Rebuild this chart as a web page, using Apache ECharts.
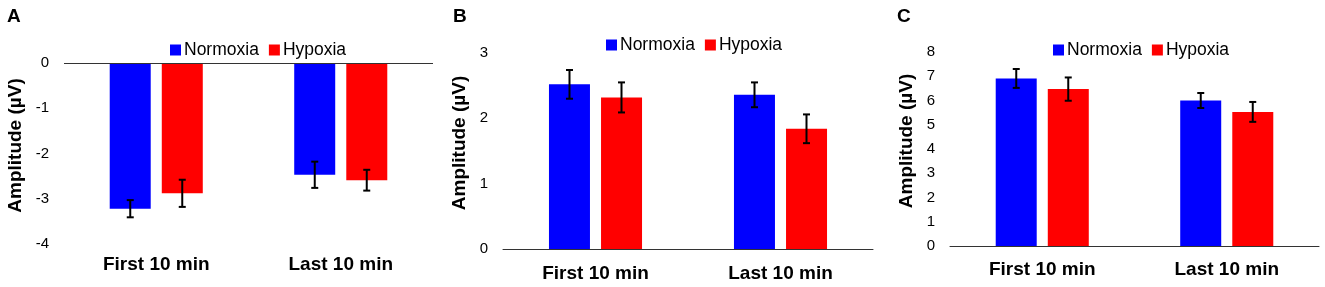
<!DOCTYPE html>
<html lang="en">
<head>
  <meta charset="utf-8">
  <script src="https://cdn.jsdelivr.net/npm/echarts@6/dist/echarts.min.js"></script>
</head>
<body style="margin: 0">
<div id="container" style="width: 1325px; height: 287px"></div>
<script type="text/javascript">
  var categories = ['First 10 min', 'Last 10 min'];
  var seriesNames = ['Normoxia', 'Hypoxia'];
  var panelLetters = ['A', 'B', 'C'];

  // panel A
  var normoxiaA = [-3.22, -2.47];
  var normoxiaErrA = [0.19, 0.29];
  var hypoxiaA = [-2.88, -2.59];
  var hypoxiaErrA = [0.30, 0.23];
  // panel B
  var normoxiaB = [2.52, 2.36];
  var normoxiaErrB = [0.22, 0.19];
  var hypoxiaB = [2.32, 1.84];
  var hypoxiaErrB = [0.23, 0.22];
  // panel C
  var normoxiaC = [6.91, 6.00];
  var normoxiaErrC = [0.39, 0.31];
  var hypoxiaC = [6.47, 5.53];
  var hypoxiaErrC = [0.48, 0.41];

  // y ranges (min, max), tick step 1
  var yRangeA = [-4, 0];
  var yRangeB = [0, 3];
  var yRangeC = [0, 8];

  var FONT = "'Liberation Sans', Arial, sans-serif";
  var BLUE = '#0000ff', RED = '#ff0000';

  var panels = [
    { n: normoxiaA, ne: normoxiaErrA, h: hypoxiaA, he: hypoxiaErrA, range: yRangeA,
      grid: { left: 64, right: 892, top: 63, bottom: 43 }, legend: { left: 170, top: 41 },
      nameGap: 39, labelMargin: 11, letterX: 7 },
    { n: normoxiaB, ne: normoxiaErrB, h: hypoxiaB, he: hypoxiaErrB, range: yRangeB,
      grid: { left: 503, right: 452, top: 53, bottom: 38 }, legend: { left: 606, top: 36 },
      nameGap: 34, labelMargin: 15, letterX: 453 },
    { n: normoxiaC, ne: normoxiaErrC, h: hypoxiaC, he: hypoxiaErrC, range: yRangeC,
      grid: { left: 950, right: 6, top: 52, bottom: 41 }, legend: { left: 1053, top: 41 },
      nameGap: 34, labelMargin: 14, letterX: 897 }
  ];

  function errorItem(offset) {
    return function (params, api) {
      var i = api.value(0);
      var top = api.coord([i, api.value(1) + api.value(2)]);
      var bot = api.coord([i, api.value(1) - api.value(2)]);
      var x = top[0] + offset;
      var style = { stroke: '#000', lineWidth: 2 };
      return {
        type: 'group',
        children: [
          { type: 'line', shape: { x1: x, y1: top[1], x2: x, y2: bot[1] }, style: style },
          { type: 'line', shape: { x1: x - 3.5, y1: top[1], x2: x + 3.5, y2: top[1] }, style: style },
          { type: 'line', shape: { x1: x - 3.5, y1: bot[1], x2: x + 3.5, y2: bot[1] }, style: style }
        ]
      };
    };
  }

  function errData(vals, errs) {
    return vals.map(function (v, i) { return [i, v, errs[i]]; });
  }

  var option = {
    animation: false,
    textStyle: { fontFamily: FONT },
    title: [], grid: [], xAxis: [], yAxis: [], legend: [], series: []
  };

  panels.forEach(function (p, k) {
    option.title.push({
      text: panelLetters[k], left: p.letterX, top: 7, padding: 0,
      textStyle: { fontFamily: FONT, fontSize: 19, fontWeight: 'bold', color: '#000' }
    });
    option.grid.push(p.grid);
    option.legend.push({
      left: p.legend.left, top: p.legend.top, padding: 0,
      itemWidth: 11, itemHeight: 11, itemGap: 10,
      icon: 'rect',
      data: seriesNames.map(function (name) { return { name: name + '_' + k }; }),
      formatter: function (name) { return name.split('_')[0]; },
      textStyle: { fontFamily: FONT, fontSize: 17.5, color: '#000', padding: [0, 0, 0, -2] }
    });
    option.xAxis.push({
      type: 'category', gridIndex: k, data: categories,
      axisLine: { show: k > 0, onZero: false, lineStyle: { color: '#333', width: 1 } },
      axisTick: { show: false },
      axisLabel: { margin: p.labelMargin, fontFamily: FONT, fontSize: 19, fontWeight: 'bold', color: '#000' }
    });
    option.yAxis.push({
      type: 'value', gridIndex: k, min: p.range[0], max: p.range[1], interval: 1,
      name: 'Amplitude (µV)', nameLocation: 'middle', nameRotate: 90, nameGap: p.nameGap,
      nameTextStyle: { fontFamily: FONT, fontSize: 19, fontWeight: 'bold', color: '#000', padding: [0, 0, 0, 16] },
      axisLine: { show: false }, axisTick: { show: false }, splitLine: { show: false },
      axisLabel: { margin: 15, fontFamily: FONT, fontSize: 15, color: '#000' }
    });
    var normoxiaBar = {
      name: 'Normoxia_' + k, type: 'bar', xAxisIndex: k, yAxisIndex: k,
      data: p.n, barWidth: 41, barGap: '27%', itemStyle: { color: BLUE }
    };
    if (k === 0) {
      normoxiaBar.markLine = {
        silent: true, symbol: 'none', label: { show: false },
        lineStyle: { color: '#333', width: 1, type: 'solid' },
        data: [{ yAxis: 0 }]
      };
    }
    option.series.push(normoxiaBar);
    option.series.push({
      name: 'Hypoxia_' + k, type: 'bar', xAxisIndex: k, yAxisIndex: k,
      data: p.h, barWidth: 41, barGap: '27%', itemStyle: { color: RED }
    });
    option.series.push({
      type: 'custom', xAxisIndex: k, yAxisIndex: k, z: 10,
      renderItem: errorItem(-26), encode: { x: 0, y: 1 },
      data: errData(p.n, p.ne)
    });
    option.series.push({
      type: 'custom', xAxisIndex: k, yAxisIndex: k, z: 10,
      renderItem: errorItem(26), encode: { x: 0, y: 1 },
      data: errData(p.h, p.he)
    });
  });

  var myChart = echarts.init(document.getElementById('container'), null, { renderer: 'canvas' });
  myChart.setOption(option);
  window.addEventListener('resize', myChart.resize);
</script>
</body>
</html>
